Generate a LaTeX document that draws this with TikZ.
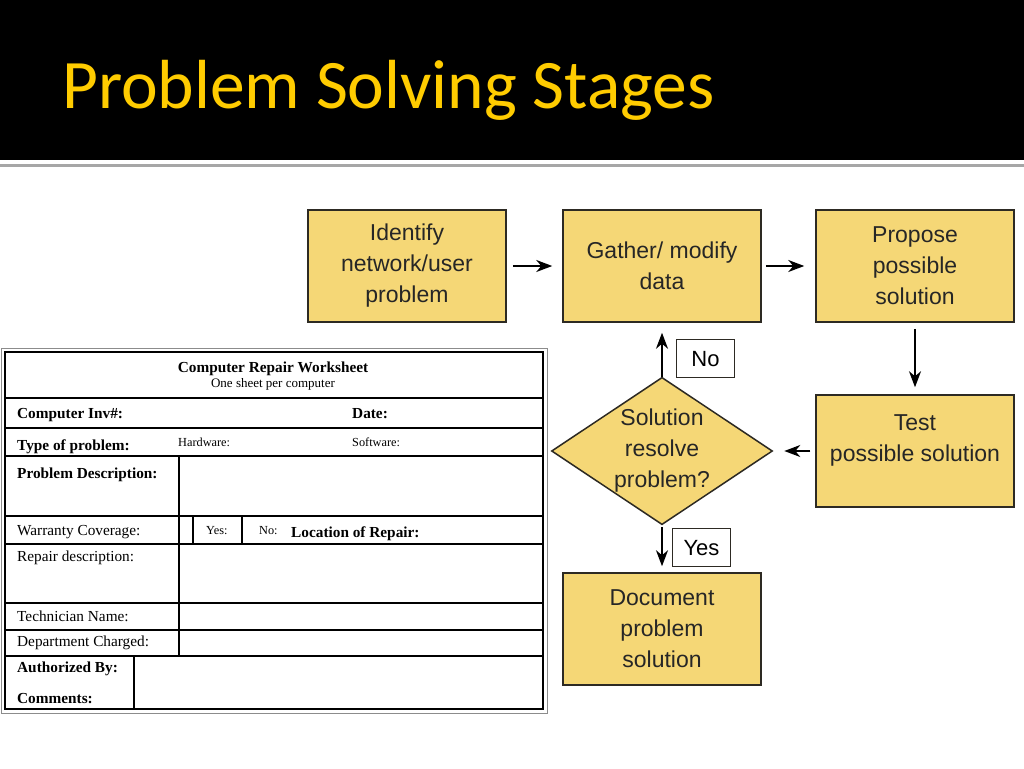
\documentclass[tikz,border=0pt]{standalone}
\usepackage{fontspec}
\setmainfont{Liberation Serif}
\newfontfamily\flowfont{Liberation Sans}
\newfontfamily\titlefont{Carlito}
\usetikzlibrary{arrows.meta,positioning,shapes.geometric}
\definecolor{stagefill}{RGB}{245,215,118}
\definecolor{stageline}{RGB}{45,42,35}
\definecolor{titlegold}{RGB}{255,204,0}
\tikzset{>/.tip={Stealth[length=16pt,width=12pt,inset=5pt]}}
\tikzset{
  stage/.style={draw=stageline,line width=1.5pt,fill=stagefill,minimum width=198pt,
    minimum height=112pt,align=center,font=\flowfont\fontsize{23}{31}\selectfont,text=black!85},
  decide/.style={stage,diamond,aspect=1.5,inner sep=0pt,minimum width=217pt,minimum height=144pt},
  answer/.style={draw=stageline,line width=1pt,fill=white,minimum width=58pt,minimum height=38pt,
    font=\flowfont\fontsize{22}{26}\selectfont},
  flow/.style={->,line width=1.8pt,black},
  formtext/.style={anchor=base west,inner sep=0pt,font=\fontsize{15.3}{17}\selectfont},
  formbold/.style={formtext,font=\bfseries\fontsize{15.3}{17}\selectfont},
  formsmall/.style={formtext,font=\fontsize{12.3}{14}\selectfont}
}

\begin{document}
\begin{tikzpicture}[x=1pt,y=-1pt,node distance=255pt,on grid]
  \useasboundingbox (0,0) rectangle (1024,768);
  % title band
  \fill[black] (0,0) rectangle (1024,160);
  \draw[black!35,line width=3pt] (0,165) -- (1024,165);
  \node(title)[anchor=base west,inner sep=0pt,text=titlegold,font=\titlefont\fontsize{69.5}{74}\selectfont]
    at (62,108) {Problem Solving Stages};

  % worksheet
  \draw[black!45,line width=1pt] (1,348) rectangle (547,713);
  \draw[line width=1.5pt] (5,352) rectangle (543,709);
  \foreach \y in {398,428,456,516,544,603,630,656}
    \draw[line width=1.2pt] (5,\y) -- (543,\y);
  \draw[line width=1.2pt] (179,456) -- (179,656);
  \draw[line width=1.2pt] (193,516) -- (193,544) (242,516) -- (242,544);
  \draw[line width=1.2pt] (134,656) -- (134,709);
  \node(wstitle)[formbold,anchor=base] at (273,372) {Computer Repair Worksheet};
  \node(wssub)[formsmall,anchor=base,font=\fontsize{13}{15}\selectfont] at (273,387) {One sheet per computer};
  \node(inv)[formbold] at (17,418) {Computer Inv\#:};
  \node(date)[formbold] at (352,418) {Date:};
  \node(type)[formbold] at (17,450) {Type of problem:};
  \node(hw)[formsmall] at (178,446) {Hardware:};
  \node(sw)[formsmall] at (352,446) {Software:};
  \node(pdesc)[formbold] at (17,478) {Problem Description:};
  \node(warr)[formtext] at (17,535) {Warranty Coverage:};
  \node(yes)[formsmall] at (206,534) {Yes:};
  \node(no)[formsmall] at (259,534) {No:};
  \node(loc)[formbold] at (291,537) {Location of Repair:};
  \node(rdesc)[formtext] at (17,561) {Repair description:};
  \node(tech)[formtext] at (17,621) {Technician Name:};
  \node(dept)[formtext] at (17,646) {Department Charged:};
  \node(auth)[formbold] at (17,672) {Authorized By:};
  \node(comm)[formbold] at (17,703) {Comments:};

  % stages
  \node(identify)[stage] at (407,266) {Identify\\network/user\\problem};
  \node(gather)[stage,right=of identify] {Gather/ modify\\data};
  \node(propose)[stage,right=253pt of gather] {Propose\\possible\\solution};
  \node(test)[stage,below=185pt of propose] {Test\\possible solution\\[-5pt]\mbox{}};
  \node(check)[decide,left=253pt of test] {Solution\\resolve\\problem?};
  \node(document)[stage,below=178pt of check] {Document\\problem\\solution};
  \draw[flow,shorten <=6pt,shorten >=10pt] (identify) -- (gather);
  \draw[flow,shorten <=4pt,shorten >=11pt] (gather) -- (propose);
  \draw[flow,shorten <=6pt,shorten >=7pt] (propose) -- (test);
  \draw[flow,shorten <=5pt,shorten >=11pt] (test) -- (check);
  \draw[flow,shorten >=10pt] (check) -- node[answer,right=14pt,yshift=-9pt]{No} (gather);
  \draw[flow,shorten <=2pt,shorten >=6pt] (check) -- node[answer,right=10pt,yshift=1pt]{Yes} (document);
\end{tikzpicture}
\end{document}
